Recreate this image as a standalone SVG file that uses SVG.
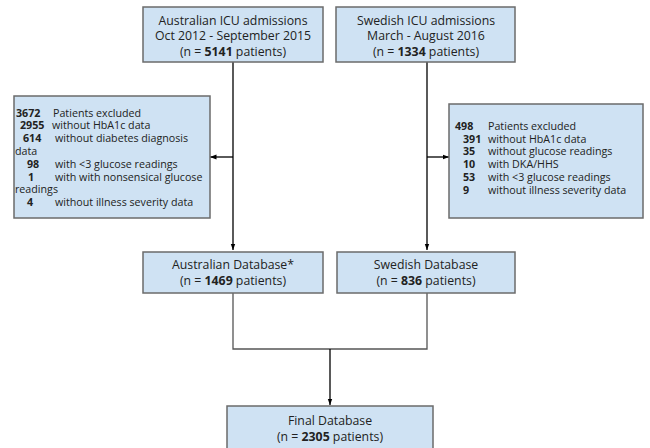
<svg xmlns="http://www.w3.org/2000/svg" width="650" height="448" viewBox="0 0 650 448">
<defs>
<style>
.box{fill:#cfe2f3;stroke:#6b6b6b;stroke-width:1.5}
text{font-family:"Open Sans","Noto Sans","Liberation Sans",sans-serif;font-size:12.3px;fill:#222}
.s{font-size:10.7px}
.c{text-anchor:middle}
.b{font-weight:bold}
.k{fill:none;stroke:#000;stroke-width:1.3}
.g{fill:none;stroke:#555;stroke-width:1.3}
</style>
<marker id="ah" viewBox="0 0 6 6" refX="6" refY="3" markerWidth="5" markerHeight="5" orient="auto"><path d="M0,0.8 L6,3 L0,5.2 z" fill="#000"/></marker>
</defs>
<g id="connectors">
<path class="k" d="M233,62 V250" marker-end="url(#ah)"/>
<path class="k" d="M427,62 V250" marker-end="url(#ah)"/>
<path class="k" d="M233,157 H210" marker-end="url(#ah)"/>
<path class="k" d="M427,157 H449" marker-end="url(#ah)"/>
<path class="g" d="M233,293 V349 H427 V293"/>
<path class="k" d="M330,349 V405" marker-end="url(#ah)"/>
</g>
<g id="aus-icu">
<rect class="box" x="143" y="7" width="180" height="55"/>
<text class="c" x="233" y="24.5">Australian ICU admissions</text>
<text class="c" x="233" y="40">Oct 2012 - September 2015</text>
<text class="c" x="233" y="55.5">(n = <tspan class="b">5141</tspan> patients)</text>
</g>
<g id="swe-icu">
<rect class="box" x="336" y="7" width="179" height="55"/>
<text class="c" x="426" y="24.5">Swedish ICU admissions</text>
<text class="c" x="426" y="40">March - August 2016</text>
<text class="c" x="426" y="55.5">(n = <tspan class="b">1334</tspan> patients)</text>
</g>
<g id="aus-excl">
<rect class="box" x="14" y="96" width="196" height="122"/>
<text class="s" y="116.5"><tspan class="b" x="16">3672</tspan><tspan x="53">Patients excluded</tspan></text>
<text class="s" y="129.3"><tspan class="b" x="20">2955</tspan><tspan x="52">without HbA1c data</tspan></text>
<text class="s" y="142.1"><tspan class="b" x="23">614</tspan><tspan x="55">without diabetes diagnosis</tspan></text>
<text class="s" x="15" y="154.9">data</text>
<text class="s" y="167.7"><tspan class="b" x="27">98</tspan><tspan x="55">with &lt;3 glucose readings</tspan></text>
<text class="s" y="180.5"><tspan class="b" x="28">1</tspan><tspan x="55">with with nonsensical glucose</tspan></text>
<text class="s" x="15" y="193.3">readings</text>
<text class="s" y="206.1"><tspan class="b" x="27">4</tspan><tspan x="55">without illness severity data</tspan></text>
</g>
<g id="swe-excl">
<rect class="box" x="449" y="104" width="194" height="114"/>
<text class="s" y="129.8"><tspan class="b" x="455">498</tspan><tspan x="488">Patients excluded</tspan></text>
<text class="s" y="142.6"><tspan class="b" x="463">391</tspan><tspan x="488">without HbA1c data</tspan></text>
<text class="s" y="155.4"><tspan class="b" x="463">35</tspan><tspan x="488">without glucose readings</tspan></text>
<text class="s" y="168.2"><tspan class="b" x="463">10</tspan><tspan x="488">with DKA/HHS</tspan></text>
<text class="s" y="181"><tspan class="b" x="463">53</tspan><tspan x="488">with &lt;3 glucose readings</tspan></text>
<text class="s" y="193.8"><tspan class="b" x="463">9</tspan><tspan x="488">without illness severity data</tspan></text>
</g>
<g id="aus-db">
<rect class="box" x="143" y="252" width="180" height="41"/>
<text class="c" x="233" y="269">Australian Database*</text>
<text class="c" x="233" y="285">(n = <tspan class="b">1469</tspan> patients)</text>
</g>
<g id="swe-db">
<rect class="box" x="337" y="252" width="178" height="41"/>
<text class="c" x="426" y="269">Swedish Database</text>
<text class="c" x="426" y="285">(n = <tspan class="b">836</tspan> patients)</text>
</g>
<g id="final-db">
<rect class="box" x="227" y="406" width="206" height="50"/>
<text class="c" x="330" y="425">Final Database</text>
<text class="c" x="330" y="441">(n = <tspan class="b">2305</tspan> patients)</text>
</g>
</svg>
